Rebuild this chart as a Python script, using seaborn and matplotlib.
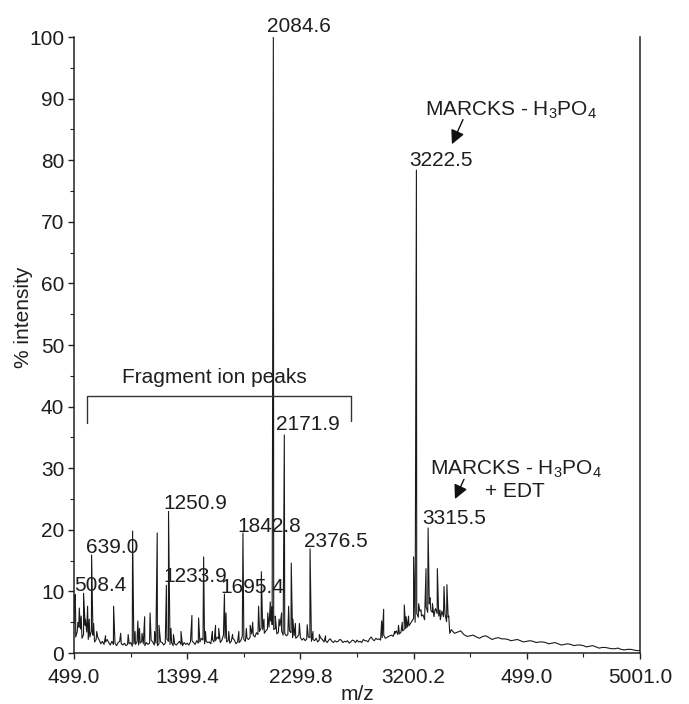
import numpy as np
import pandas as pd
import matplotlib
matplotlib.use("Agg")
import matplotlib.pyplot as plt
import seaborn as sns

# ---- spectrum data (m/z, % intensity) ----
# baseline trace, sampled every 25 m/z from 500 to 3500
base_lo_start, base_lo_step = 500, 25
base_lo = [
    4.8, 3.5, 3.9, 3.0, 3.4, 2.6, 2.9, 2.2, 2.1, 1.9, 1.8, 1.7, 1.9, 1.6, 1.7, 1.5,
    1.6, 1.4, 1.7, 1.5, 1.8, 1.6, 1.5, 1.7, 1.6, 1.8, 1.6, 1.5, 1.7, 1.6, 1.9, 1.7,
    1.5, 1.6, 1.4, 1.7, 1.6, 1.8, 1.7, 2.0, 1.8, 2.1, 1.9, 1.8, 2.2, 2.0, 2.3, 2.1,
    2.4, 2.0, 1.9, 2.1, 1.8, 2.0, 2.2, 2.4, 2.6, 2.9, 3.3, 3.5, 3.8, 3.6, 4.2, 4.6,
    4.0, 3.4, 3.6, 3.2, 3.0, 3.3, 2.8, 2.6, 2.5, 2.4, 2.3, 2.5, 2.2, 2.4, 2.1, 2.2,
    2.0, 2.1, 1.9, 2.0, 1.9, 2.1, 1.9, 2.0, 1.8, 2.0, 2.1, 1.9, 2.2, 2.0, 2.3, 2.2,
    2.4, 2.3, 2.5, 2.4, 2.7, 2.9, 3.1, 3.0, 3.4, 3.8, 4.2, 4.8, 5.6, 6.5, 6.8, 6.2,
    7.5, 8.0, 6.6, 7.2, 6.0, 6.8, 6.3, 5.8, 3.8,
]
# in-between baseline samples at 512.5, 537.5, ... 3487.5
base_mid_start, base_mid_step = 512.5, 25
base_mid = [
    2.6, 4.2, 2.4, 4.5, 2.2, 3.6, 1.8, 2.6,
    1.5, 1.4, 2.2, 1.3, 1.4, 1.2, 1.9, 1.3, 1.2, 1.5, 1.1, 1.4,
    1.3, 1.9, 1.2, 1.4, 2.1, 1.3, 1.2, 1.8, 1.3, 2.3, 1.4, 1.2,
    1.3, 1.9, 1.2, 1.4, 1.3, 2.0, 1.4, 1.6, 2.4, 1.5, 1.7, 1.5,
    1.8, 2.6, 1.7, 2.9, 1.8, 1.6, 2.4, 1.5, 1.7, 2.7, 1.9, 2.2,
    3.1, 2.6, 3.0, 4.1, 3.2, 3.9, 5.2, 3.8, 3.1, 4.4, 2.9, 2.8,
    3.6, 2.5, 2.4, 3.0, 2.1, 2.0, 2.6, 1.9, 2.0, 1.8, 2.4, 1.8,
    1.7, 2.3, 1.7, 1.8, 2.2, 1.7, 1.8, 1.6, 2.1, 1.7, 1.8, 1.7,
    2.0, 1.8, 2.6, 2.0, 2.2, 2.1, 2.9, 2.5, 2.8, 2.7, 3.6, 3.1,
    3.6, 4.0, 4.4, 5.2, 5.0, 5.8, 6.0, 5.4, 6.6, 6.9, 5.9, 6.4, 5.4, 5.9, 5.1, 3.2,
]
# baseline tail, sampled every 50 m/z from 3550 to 5000
base_hi_start, base_hi_step = 3550, 50
base_hi = [
    3.4, 3.0, 2.8, 2.6, 2.7, 2.5, 2.4, 2.3, 2.2, 2.1, 2.0, 1.9, 1.9, 1.8, 1.7,
    1.6, 1.5, 1.4, 1.4, 1.3, 1.2, 1.1, 1.0, 0.9, 0.8, 0.7, 0.6, 0.6, 0.5, 0.4,
]
# tail samples in between, at 3525, 3575, ... 4975
base_hi_mid_start, base_hi_mid_step = 3525, 50
base_hi_mid = [
    3.2, 3.6, 2.7, 2.9, 2.4, 2.8, 2.2, 2.5, 2.3, 2.0, 2.2, 1.8, 2.0, 1.7, 1.8,
    1.5, 1.7, 1.3, 1.5, 1.2, 1.3, 1.0, 1.2, 0.8, 0.9, 0.7, 0.8, 0.5, 0.6, 0.4,
]

# labelled peaks
label_mz = [508.4, 639.0, 1233.9, 1250.9, 1695.4, 1842.8, 2084.6, 2171.9, 2376.5,
            3222.5, 3315.5]
label_int = [9.5, 15.9, 11.0, 23.0, 9.6, 19.5, 100.0, 35.4, 16.9, 78.4, 20.3]

# other (unlabelled) peaks
peak_mz = [503, 512, 530, 541, 556, 575, 590, 607, 620, 655, 680, 750, 814, 870, 930,
           965, 985, 1007, 1020, 1040, 1061, 1104, 1140, 1161, 1175, 1270, 1290, 1350,
           1437, 1490, 1530, 1545, 1600, 1625, 1650, 1708, 1730, 1760, 1810, 1870,
           1900, 1920, 1967, 1989, 2010, 2040, 2060, 2073, 2100, 2130, 2150, 2206,
           2227, 2240, 2260, 2292, 2354, 2400, 2450, 2500, 2946, 2962, 3050, 3080,
           3110, 3126, 3140, 3160, 3200, 3240, 3260, 3299, 3330, 3350, 3370, 3389,
           3410, 3442, 3465, 3480]
peak_int = [8.5, 6.0, 5.0, 7.3, 6.0, 9.7, 5.5, 7.6, 5.5, 4.8, 3.5, 2.8, 7.6, 3.2, 3.0,
            19.8, 3.5, 5.2, 4.0, 3.2, 5.9, 6.5, 3.5, 19.5, 4.5, 4.0, 3.0, 3.5,
            6.1, 5.7, 15.6, 3.5, 3.5, 4.5, 4.0, 6.5, 3.5, 3.0, 3.5, 4.0,
            4.5, 5.0, 7.6, 13.2, 5.5, 6.5, 8.3, 7.5, 6.0, 5.5, 6.5, 7.6,
            14.6, 5.5, 4.8, 4.8, 4.6, 3.5, 3.0, 2.8, 5.2, 7.1, 3.5, 4.5,
            5.0, 7.8, 5.9, 6.0, 15.6, 8.0, 7.0, 13.7, 9.0, 8.0, 7.0, 13.7,
            7.0, 10.8, 11.1, 6.0]

# axis ticks
xtick_pos = [499.0, 1399.4, 2299.8, 3200.2, 4100.6, 5001.0]
xtick_lab = ["499.0", "1399.4", "2299.8", "3200.2", "499.0", "5001.0"]

# ---- assemble trace ----
mz_lo = base_lo_start + base_lo_step * np.arange(len(base_lo))
mz_mid = base_mid_start + base_mid_step * np.arange(len(base_mid))
mz_hi = base_hi_start + base_hi_step * np.arange(len(base_hi))
mz_hi_mid = base_hi_mid_start + base_hi_mid_step * np.arange(len(base_hi_mid))
trace = pd.DataFrame({
    "mz": np.concatenate([mz_lo, mz_mid, mz_hi, mz_hi_mid, peak_mz, label_mz]).astype(float),
    "intensity": np.concatenate([base_lo, base_mid, base_hi, base_hi_mid,
                                 peak_int, label_int]).astype(float),
}).sort_values("mz").reset_index(drop=True)

# ---- style ----
sns.set_style("ticks")
plt.rcParams["font.family"] = ["Liberation Sans", "DejaVu Sans"]
plt.rcParams["mathtext.fontset"] = "custom"
plt.rcParams["mathtext.rm"] = "Liberation Sans"
plt.rcParams["mathtext.it"] = "Liberation Sans"
FS = 15
TXT = "#1e1e1e"

fig = plt.figure(figsize=(6.89, 7.04), dpi=100)
ax = fig.add_axes([0.1074, 0.0724, 0.8215, 0.8750])

sns.lineplot(data=trace, x="mz", y="intensity", estimator=None, sort=False,
             color="#1a1a1a", linewidth=0.8, ax=ax)

ax.set_xlim(499.0, 5001.0)
ax.set_ylim(0, 100)
ax.set_xticks(xtick_pos)
ax.set_xticklabels(xtick_lab)
ax.set_xticks([(a + b) / 2 for a, b in zip(xtick_pos[:-1], xtick_pos[1:])], minor=True)
ax.set_yticks(np.arange(0, 101, 10))
ax.set_yticks(np.arange(5, 100, 10), minor=True)
ax.tick_params(axis="both", which="major", labelsize=FS, length=4, width=1,
               colors="#222222", labelcolor=TXT)
ax.tick_params(axis="both", which="minor", length=3, width=0.8, colors="#222222")
ax.tick_params(axis="x", which="major", pad=7)
ax.tick_params(axis="y", which="major", pad=3)

ax.spines["top"].set_visible(False)
for s in ("left", "bottom", "right"):
    ax.spines[s].set_linewidth(1.1)
    ax.spines[s].set_color("#222222")

ax.set_xlabel("m/z", fontsize=FS, color=TXT, labelpad=-2)
ax.set_ylabel("% intensity", fontsize=FS, color=TXT)
ax.yaxis.set_label_coords(-0.072, 0.545)

# ---- peak labels ----
label_offsets = {  # (left x in m/z, text baseline in %)
    508.4: (499, 10.1), 639.0: (594, 16.2), 1233.9: (1207, 11.5),
    1250.9: (1207, 23.4), 1695.4: (1660, 9.7), 1842.8: (1795, 19.6),
    2084.6: (2034, 100.8), 2171.9: (2106, 36.2), 2376.5: (2328, 17.2),
    3222.5: (3163, 79.0), 3315.5: (3267, 20.9),
}
for mz in label_mz:
    tx, ty = label_offsets[mz]
    ax.text(tx, ty, f"{mz:.1f}", fontsize=FS, color=TXT, ha="left", va="baseline",
            clip_on=False)

# fragment bracket
ax.plot([600, 600, 2702, 2702], [37.4, 41.7, 41.7, 37.7], color="#333333", lw=1.0)
ax.text(1616, 43.8, "Fragment ion peaks", fontsize=FS, color=TXT, ha="center",
        va="baseline")

# precursor annotations
ax.text(3291, 87.3, r"MARCKS - H$_3$PO$_4$", fontsize=FS, color=TXT, ha="left",
        va="baseline")
ax.annotate("", xy=(3505, 82.6), xytext=(3593, 86.6),
            arrowprops=dict(arrowstyle="-|>", color="#111111", lw=1.0,
                            mutation_scale=21, shrinkA=0, shrinkB=0))

ax.text(3330, 29.0, r"MARCKS - H$_3$PO$_4$", fontsize=FS, color=TXT, ha="left",
        va="baseline")
ax.text(3768, 25.3, "+ EDT", fontsize=FS, color=TXT, ha="left", va="baseline")
ax.annotate("", xy=(3529, 25.0), xytext=(3601, 28.2),
            arrowprops=dict(arrowstyle="-|>", color="#111111", lw=1.0,
                            mutation_scale=21, shrinkA=0, shrinkB=0))

fig.savefig("out.png", dpi=100, facecolor="white")
